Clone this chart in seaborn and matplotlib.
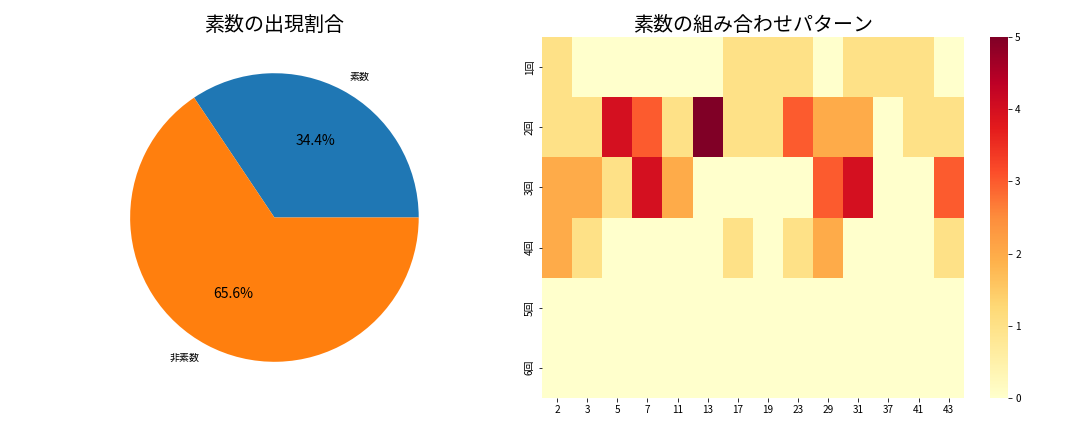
import numpy as np
import pandas as pd
import matplotlib
matplotlib.use('Agg')
import matplotlib.pyplot as plt
import seaborn as sns

plt.rcParams['font.family'] = ['Noto Sans CJK JP', 'DejaVu Sans']

# 円グラフ
pie_labels = ['素数', '非素数']
pie_values = [34.4, 65.6]

# ヒートマップ
primes = [2, 3, 5, 7, 11, 13, 17, 19, 23, 29, 31, 37, 41, 43]
rows = ['1回', '2回', '3回', '4回', '5回', '6回']
counts_1 = [1, 0, 0, 0, 0, 0, 1, 1, 1, 0, 1, 1, 1, 0]
counts_2 = [1, 1, 4, 3, 1, 5, 1, 1, 3, 2, 2, 0, 1, 1]
counts_3 = [2, 2, 1, 4, 2, 0, 0, 0, 0, 3, 4, 0, 0, 3]
counts_4 = [2, 1, 0, 0, 0, 0, 1, 0, 1, 2, 0, 0, 0, 1]
counts_5 = [0] * 14
counts_6 = [0] * 14

df = pd.DataFrame([counts_1, counts_2, counts_3, counts_4, counts_5, counts_6],
                  index=rows, columns=primes)

fig, (ax1, ax2) = plt.subplots(1, 2, figsize=(15, 6), dpi=72)

colors = sns.color_palette('tab10')[:2]
ax1.pie(pie_values, labels=pie_labels, autopct='%1.1f%%', colors=colors,
        textprops={'fontsize': 10})
for t in ax1.texts[1::2]:
    t.set_fontsize(14)
ax1.set_title('素数の出現割合', fontsize=20)

sns.heatmap(df, cmap='YlOrRd', vmin=0, vmax=5, ax=ax2)
ax2.set_title('素数の組み合わせパターン', fontsize=20)
ax2.tick_params(labelsize=10)
ax2.collections[0].colorbar.ax.tick_params(labelsize=10)

plt.tight_layout()
fig.subplots_adjust(top=0.914, bottom=0.079)
plt.savefig('out.png')
